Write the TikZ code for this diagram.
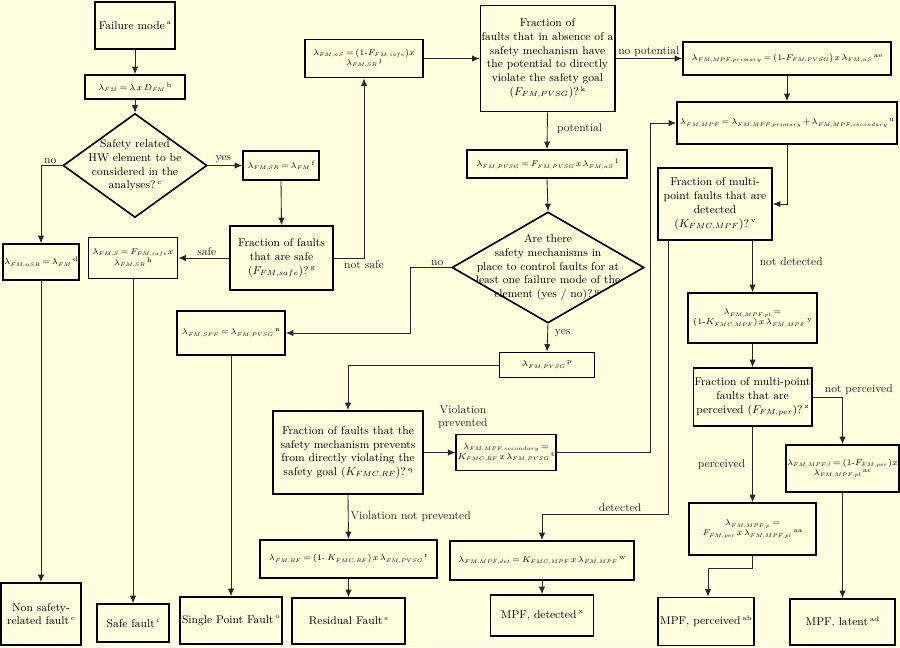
\documentclass[tikz,border=0pt]{standalone}
\usepackage{fix-cm}
\usepackage{amssymb}
\usepackage{mathtools}
\usepackage{tikz}
\DeclareMathSizes{6.3}{6.7}{4.2}{3.6}
\definecolor{colorBG}{RGB}{255,255,224}
\colorlet{colorLN}{black!85}
\usetikzlibrary{arrows.meta}
\usetikzlibrary{shapes.geometric}
\usetikzlibrary{positioning}
\newcommand{\fsz}{\fontsize{6.3}{8}\selectfont\thickmuskip=3mu\relax\medmuskip=2mu\relax}
\tikzset{
   every path/.style={>={Latex[length=6pt,width=5pt]}},
   sz/.style 2 args={minimum width=#1*0.8pt,minimum height=#2*0.8pt},
   box/.style={draw,line width=1.3pt,align=center,inner sep=1pt,font=\small},
   fbox/.style={box,font=\fsz},
   dia/.style={diamond,draw,line width=1.3pt,inner sep=0pt},
   flow/.style={->,color=colorLN,line width=0.7pt},
   lbl/.style={font=\small,inner sep=1.5pt},
}
\newcommand{\X}{\mathbin{x}}
\newcommand{\fn}[1]{\,\raisebox{0.9ex}{\fontsize{5.3}{6}\selectfont#1}}

\begin{document}
\begin{tikzpicture}[x=0.8pt,y=-0.8pt]

        \fill[colorBG] (0,0) rectangle (900,647);
        \useasboundingbox (0,0) rectangle (900,647);

        % safety related or not
        \node[box,sz={80}{47}] (fm) at (135,25.5) {Failure mode\fn{a}};
        \node[fbox,sz={100}{24}] (lfm) at (135,87) {$\lambda_{FM} = \lambda \X D_{FM}$\fn{b}};
        \node[dia,sz={144}{104},label={[lbl,align=center]center:Safety related\\HW element to be\\considered in the\\analyses?\fn{c}}] (d1) at (135,165.5) {};

        \node[fbox,sz={76}{36}] (lnsr) at (41,262) {$\lambda_{FM,nSR} = \lambda_{FM}$\fn{d}};
        \node[box,sz={80}{62}] (nsf) at (41,614) {Non safety-\\related fault\fn{e}};

        \node[fbox,sz={76}{29}] (lsr) at (281,165.5) {$\lambda_{FM,SR} = \lambda_{FM}$\fn{f}};
        \node[box,sz={103}{64}] (frsafe) at (281.5,258) {Fraction of faults\\that are safe\\($F_{FM,safe}$)?\fn{g}};
        \node[fbox,sz={89}{41}] (ls) at (133,258) {$\lambda_{FM,S} = F_{FM,safe} \X$\\$\lambda_{FM,SR}$\fn{h}};
        \node[box,sz={72}{38}] (safe) at (133,623) {Safe fault\fn{i}};

        % potential to violate the goal
        \node[fbox,sz={118}{38}] (lns) at (364,58.5) {$\lambda_{FM,nS} = (1\text{-}F_{FM,safe}) \X$\\$\lambda_{FM,SR}$\fn{j}};
        \node[box,sz={131}{106}] (pvsg) at (547.5,58.5) {Fraction of\\faults that in absence of a\\safety mechanism have\\the potential to directly\\violate the safety goal\\($F_{FM,PVSG}$)?\fn{k}};
        \node[fbox,sz={160}{28}] (lpvsg) at (547,164) {$\lambda_{FM,PVSG} = F_{FM,PVSG} \X \lambda_{FM,nS}$\fn{l}};
        \node[dia,sz={192}{111},label={[lbl,align=center]center:Are there\\safety mechanisms in\\place to control faults for at\\least one failure mode of the\\element (yes / no)?\fn{m}}] (d2) at (548,267.5) {};

        \node[fbox,sz={108}{44}] (lspf) at (231,333) {$\lambda_{FM,SPF} = \lambda_{FM,PVSG}$\fn{n}};
        \node[box,sz={102}{47}] (spf) at (231,620.5) {Single Point Fault\fn{o}};

        \node[fbox,sz={95}{25}] (lpvsgp) at (547,365) {$\lambda_{FM,PVSG}$\fn{p}};
        \node[box,sz={150}{83}] (frrf) at (348,452.5) {Fraction of faults that the\\safety mechanism prevents\\from directly violating the\\safety goal ($K_{FMC,RF}$)?\fn{q}};
        \node[fbox,sz={98}{36}] (lsec) at (506,452.5) {$\lambda_{FM,MPF,secondary} =$\\$K_{FMC,RF} \X \lambda_{FM,PVSG}$\fn{t}};
        \node[fbox,sz={177}{38}] (lrf) at (348.5,559) {$\lambda_{FM,RF} = (1\text{-}\,K_{FMC,RF}) \X \lambda_{FM,PVSG}$\fn{r}};
        \node[box,sz={113}{46}] (rf) at (348.5,621) {Residual Fault\fn{s}};

        % multi-point faults
        \node[fbox,sz={208}{33}] (lprim) at (787,58.5) {$\lambda_{FM,MPF,primary} = (1\text{-}F_{FM,PVSG}) \X \lambda_{FM,nS}$\fn{ae}};
        \node[fbox,sz={220}{42}] (lmpf) at (787,123) {$\lambda_{FM,MPF} = \lambda_{FM,MPF,primary} + \lambda_{FM,MPF,secondary}$\fn{u}};
        \node[box,sz={114}{72}] (frdet) at (715,204) {Fraction of multi-\\point faults that are\\detected\\($K_{FMC,MPF}$)?\fn{v}};
        \node[fbox,sz={129}{50}] (lpl) at (752.5,318) {$\lambda_{FM,MPF,pl} =$\\$(1\text{-}K_{FMC,MPF}) \X \lambda_{FM,MPF}$\fn{y}};
        \node[box,sz={116}{58}] (frper) at (752.5,397) {Fraction of multi-point\\faults that are\\perceived ($F_{FM,per}$)?\fn{z}};
        \node[fbox,sz={113}{47}] (lmpfl) at (842.5,468.5) {$\lambda_{FM,MPF,l} = (1\text{-}F_{FM,per}) \X$\\$\lambda_{FM,MPF,pl}$\fn{ac}};
        \node[fbox,sz={127}{52}] (lmpfp) at (752.5,529) {$\lambda_{FM,MPF,p} =$\\$F_{FM,per} \X \lambda_{FM,MPF,pl}$\fn{aa}};
        \node[box,sz={96}{48}] (mpfp) at (706,621.5) {MPF, perceived\fn{ab}};
        \node[box,sz={105}{46}] (mpfl) at (842.5,622) {MPF, latent\fn{ad}};
        \node[fbox,sz={184}{39}] (lmpfdet) at (542,560.5) {$\lambda_{FM,MPF,det} = K_{FMC,MPF} \X \lambda_{FM,MPF}$\fn{w}};
        \node[box,sz={103}{41}] (mpfd) at (542,615.5) {MPF, detected\fn{x}};

        \coordinate (nbend) at (410,333);
        \coordinate (mbend) at (650,123);
        \coordinate (dbend) at (668,514);
        \coordinate (pbend) at (708,568);

        \draw[flow] (fm.south) -- (lfm.north);
        \draw[flow] (lfm.south) -- (d1.north);
        \draw[flow] (d1.east) -- node[lbl,above,pos=0.45] {yes} (lsr.west);
        \draw[flow] (d1.west) -| node[lbl,above,pos=0.28] {no} (lnsr.north);
        \draw[flow] (lnsr.south) -- (nsf.north);
        \draw[flow] (lsr.south) -- (frsafe.north);
        \draw[flow] (frsafe.west) -- node[lbl,above,pos=0.44] {safe} (ls.east);
        \draw[flow] (ls.south) -- (safe.north);
        \draw[flow] (frsafe.east) -| node[lbl,below,pos=0.5] {not safe} (lns.south);

        \draw[flow] (lns.east) -- (pvsg.west);
        \draw[flow] (pvsg.south) -- node[lbl,right,pos=0.45,xshift=6pt] {potential} (lpvsg.north);
        \draw[flow] (pvsg.east) -- node[lbl,above] {no potential} (lprim.west);
        \draw[flow] (lpvsg.south) -- (d2.north);
        \draw[flow] (d2.west) -| node[lbl,above,pos=0.17] {no} (nbend) -- (lspf.east);
        \draw[flow] (lspf.south) -- (spf.north);
        \draw[flow] (d2.south) -- node[lbl,right,pos=0.35,xshift=4pt] {yes} (lpvsgp.north);
        \draw[flow] (lpvsgp.west) -| (frrf.north);
        \draw[flow] (frrf.east) -- node[lbl,above=17pt,pos=1,xshift=6pt,align=center] {Violation\\prevented} (lsec.west);
        \draw[flow] (frrf.south) -- node[lbl,right,pos=0.5] {Violation not prevented} (lrf.north);
        \draw[flow] (lrf.south) -- (rf.north);
        \draw[flow] (lsec.east) -| (mbend) -- (lmpf.west);

        \draw[flow] (lprim.south) -- (lmpf.north);
        \draw[flow] (lmpf.south) |- (frdet.east);
        \draw[flow] (frdet.south -| dbend) -- (dbend) -| node[lbl,above,pos=0.19] {detected} (lmpfdet.north);
        \draw[flow] (lmpfdet.south) -- (mpfd.north);
        \draw[flow] (frdet.south -| lpl.north) -- node[lbl,right,pos=0.4,xshift=4pt] {not detected} (lpl.north);
        \draw[flow] (lpl.south) -- (frper.north);
        \draw[flow] (frper.east) -| node[lbl,above,pos=0.5,xshift=13pt] {not perceived} (lmpfl.north);
        \draw[flow] (frper.south) -- node[lbl,left,pos=0.5,xshift=-4pt] {perceived} (lmpfp.north);
        \draw[flow] (lmpfp.south) |- (pbend) -- (pbend |- mpfp.north);
        \draw[flow] (lmpfl.south) -- (mpfl.north);

      \end{tikzpicture}
\end{document}
